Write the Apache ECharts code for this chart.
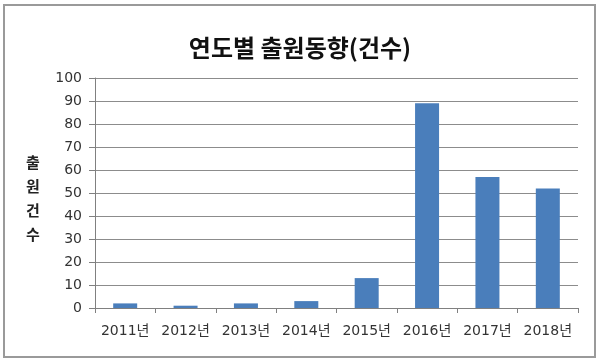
<!DOCTYPE html>
<html>
<head>
<meta charset="utf-8">
<script src="https://cdn.jsdelivr.net/npm/echarts@6/dist/echarts.min.js"></script>
<style>
html,body{margin:0;padding:0;background:#fff;}
#c{width:600px;height:363px;}
</style>
</head>
<body>
<div id="c"></div>
<script>
const titleText = '연도별 출원동향(건수)';
const yAxisTitle = '출원건수';
const categories = ['2011년','2012년','2013년','2014년','2015년','2016년','2017년','2018년'];
const counts = [2, 1, 2, 3, 13, 89, 57, 52];
const yMin = 0, yMax = 100, yStep = 10;

const chart = echarts.init(document.getElementById('c'), null, {renderer:'canvas'});
const font = '"DejaVu Sans","Noto Sans CJK KR",sans-serif';
chart.setOption({
  animation: false,
  backgroundColor: '#fff',
  title: {
    text: titleText,
    left: 'center',
    top: 31,
    textStyle: {fontFamily: '"Noto Sans CJK KR",sans-serif', fontSize: 24, fontWeight: 'bold', color: '#111'}
  },
  graphic: [
    {type:'rect', shape:{x:4, y:5, width:591, height:352}, style:{fill:'none', stroke:'#9a9a9a', lineWidth:2}, silent:true},
    {type:'text', left: 26, top: 150, style:{text: yAxisTitle.split('').join('\n'), fontFamily:'"Noto Sans CJK KR",sans-serif', fontSize:15, fontWeight:'bold', lineHeight:24, fill:'#222', textAlign:'left'}}
  ],
  grid: {left: 95, right: 22, top: 78, bottom: 55, containLabel: false},
  xAxis: {
    type: 'category',
    data: categories,
    axisLine: {lineStyle: {color: '#808080', width: 1}},
    axisTick: {show: true, length: 5, lineStyle: {color: '#808080'}},
    axisLabel: {interval: 0, fontFamily: font, fontSize: 14, color: '#333', margin: 16}
  },
  yAxis: {
    type: 'value',
    min: yMin, max: yMax, interval: yStep,
    axisLine: {show: true, lineStyle: {color: '#808080', width: 1}},
    axisTick: {show: true, length: 6, lineStyle: {color: '#808080'}},
    axisLabel: {fontFamily: font, fontSize: 14, color: '#333', margin: 13},
    splitLine: {lineStyle: {color: '#8c8c8c', width: 1}}
  },
  series: [{
    type: 'bar',
    data: counts,
    barWidth: 24,
    itemStyle: {color: '#4a7ebb'}
  }]
});
</script>
</body>
</html>
